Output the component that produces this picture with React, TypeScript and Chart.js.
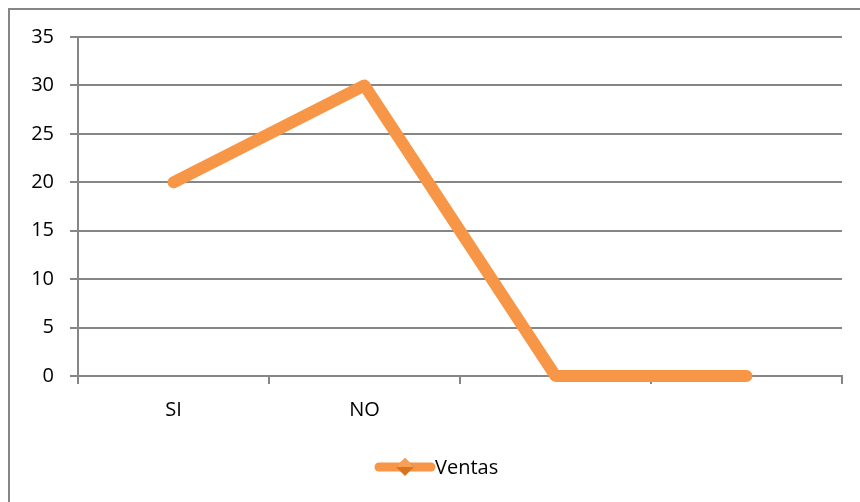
import React, { useEffect, useRef } from "react";
import { Chart, registerables } from "chart.js";

Chart.register(...registerables);

const categories = ["SI", "NO", "", ""];
const ventas = [20, 30, 0, 0];
const seriesLabel = "Ventas";
const yMin = 0;
const yMax = 35;
const yStep = 5;

const ORANGE = "#F79646";
const GRID = "#868686";
const FONT = "'Open Sans', 'Liberation Sans', sans-serif";

const frameAndLegend = {
  id: "frameAndLegend",
  afterDraw(chart: any) {
    const ctx = chart.ctx;
    ctx.save();
    // outer frame (left and top edges visible)
    ctx.strokeStyle = GRID;
    ctx.lineWidth = 2;
    ctx.beginPath();
    ctx.moveTo(9, 502);
    ctx.lineTo(9, 9);
    ctx.lineTo(860, 9);
    ctx.stroke();

    // legend
    const ds = chart.data.datasets[0];
    const cy = 467;
    const x0 = 379;
    const x1 = 431;
    ctx.strokeStyle = ORANGE;
    ctx.lineWidth = 9;
    ctx.lineCap = "round";
    ctx.beginPath();
    ctx.moveTo(x0, cy);
    ctx.lineTo(x1, cy);
    ctx.stroke();
    const mx = (x0 + x1) / 2;
    const r = 9;
    ctx.fillStyle = "#D9731F";
    ctx.beginPath();
    ctx.moveTo(mx, cy - r);
    ctx.lineTo(mx + r, cy);
    ctx.lineTo(mx, cy + r);
    ctx.lineTo(mx - r, cy);
    ctx.closePath();
    ctx.fill();
    ctx.fillStyle = "#F7A055";
    ctx.beginPath();
    ctx.moveTo(mx, cy - r);
    ctx.lineTo(mx + r, cy);
    ctx.lineTo(mx - r, cy);
    ctx.closePath();
    ctx.fill();
    ctx.fillStyle = "#000";
    ctx.font = `20px ${FONT}`;
    ctx.textBaseline = "middle";
    ctx.textAlign = "left";
    ctx.fillText(ds.label, 435, cy + 1);
    ctx.restore();
  },
};

export default function App() {
  const ref = useRef<HTMLCanvasElement | null>(null);

  useEffect(() => {
    if (!ref.current) return;
    const chart = new Chart(ref.current, {
      type: "line",
      data: {
        labels: categories,
        datasets: [
          {
            label: seriesLabel,
            data: ventas,
            borderColor: ORANGE,
            backgroundColor: ORANGE,
            borderWidth: 12,
            borderCapStyle: "round",
            borderJoinStyle: "round",
            pointRadius: 0,
            pointHoverRadius: 0,
            tension: 0,
            clip: 20,
          },
        ],
      },
      options: {
        animation: false,
        responsive: false,
        maintainAspectRatio: false,
        layout: { padding: { left: 0, top: 37, right: 18, bottom: 0 } },
        plugins: {
          legend: { display: false },
          tooltip: { enabled: false },
        },
        scales: {
          x: {
            offset: true,
            grid: {
              offset: true,
              drawOnChartArea: false,
              drawTicks: true,
              tickLength: 8,
              color: GRID,
              lineWidth: 2,
            },
            border: { color: GRID, width: 2 },
            ticks: {
              color: "#000",
              font: { family: FONT, size: 20 },
              padding: 14,
              maxRotation: 0,
              autoSkip: false,
            },
            afterFit(scale: any) {
              scale.height = 126;
            },
          },
          y: {
            min: yMin,
            max: yMax,
            grid: {
              color: GRID,
              lineWidth: 2,
              tickLength: 8,
            },
            border: { color: GRID, width: 2 },
            ticks: {
              stepSize: yStep,
              color: "#000",
              font: { family: FONT, size: 20 },
              padding: 16,
            },
            afterFit(scale: any) {
              scale.width = 78;
            },
          },
        },
      },
      plugins: [frameAndLegend],
    });
    return () => chart.destroy();
  }, []);

  return (
    <div style={{ position: "fixed", left: 0, top: 0, width: 860, height: 502, background: "#fff" }}>
      <canvas ref={ref} width={860} height={502} style={{ width: 860, height: 502 }} />
    </div>
  );
}
